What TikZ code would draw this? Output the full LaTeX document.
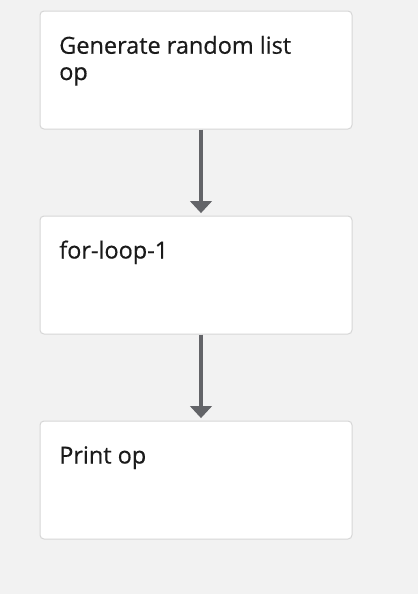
\documentclass[tikz,border=0pt]{standalone}
\usepackage{fontspec}
\setmainfont{Open Sans}[UprightFeatures={FakeBold=0.5}]
\usetikzlibrary{arrows.meta}
\definecolor{bg}{HTML}{F2F2F2}
\definecolor{boxborder}{HTML}{D6D6D6}
\definecolor{arrowgray}{HTML}{636468}
\definecolor{txt}{HTML}{1A1A1A}
\tikzset{
  stepbox/.style={draw=boxborder, fill=white, line width=0.75pt, rounded corners=3pt,
    minimum width=312*0.75pt, minimum height=118*0.75pt, inner sep=0pt, anchor=north west},
  steplabel/.style={anchor=base west, inner sep=0pt, align=left, text=txt,
    font=\fontsize{17.6pt}{19.7pt}\selectfont},
  flow/.style={draw=arrowgray, line width=3.2pt,
    -{Triangle[width=16pt, length=9pt]}, shorten >=1.8pt}
}
\begin{document}
\begin{tikzpicture}[x=0.75pt, y=-0.75pt]
\fill[bg] (0,0) rectangle (418,594);
\useasboundingbox (0,0) rectangle (418,594);
\node[stepbox] (b1) at (39.5,10.5) {};
\node[stepbox] (b2) at (39.5,215.5) {};
\node[stepbox] (b3) at (39.5,420.5) {};
\node[steplabel] (t1) at (59,80) {Generate random list\\op};
\node[steplabel] (t2) at (59,258.5) {for-loop-1};
\node[steplabel] (t3) at (59,463.5) {Print op};
\draw[flow] ([xshift=3.75pt]b1.south) -- ([xshift=3.75pt]b2.north);
\draw[flow] ([xshift=3.75pt]b2.south) -- ([xshift=3.75pt]b3.north);
\end{tikzpicture}
\end{document}
